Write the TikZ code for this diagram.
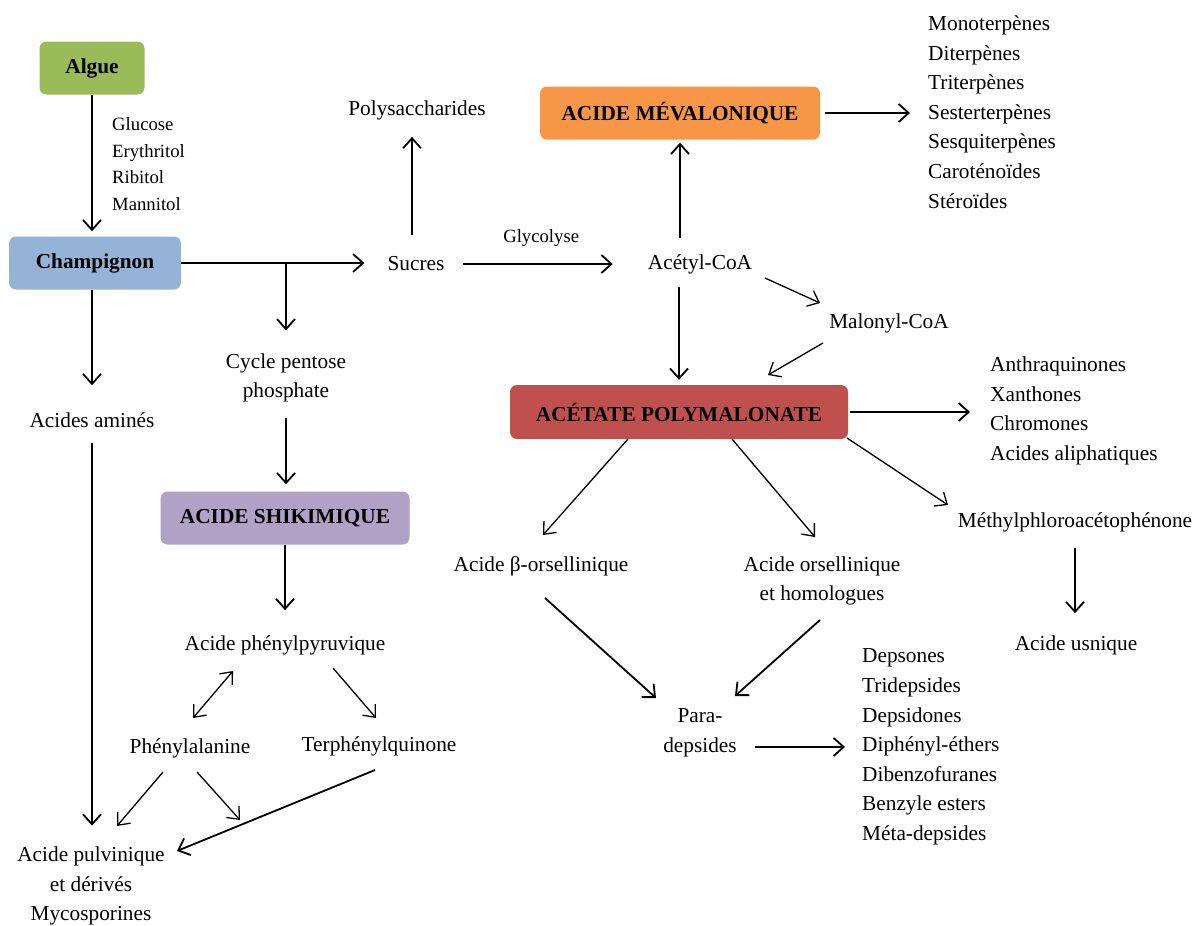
\documentclass[tikz,border=0pt]{standalone}
\usepackage{fontspec}
\setmainfont{Liberation Serif}
\usepackage{tikz}
\usetikzlibrary{arrows.meta}
\usetikzlibrary{calc}

\definecolor{algueGreen}{HTML}{9BBB59}
\definecolor{champBlue}{HTML}{95B3D7}
\definecolor{mevaOrange}{HTML}{F79646}
\definecolor{acetRed}{HTML}{C0504D}
\definecolor{shikiPurple}{HTML}{B2A1C7}

\begin{document}
\begin{tikzpicture}[x=1pt,y=-1pt]
				\tikzset{box/.style = {rounded corners=7pt, minimum height=53pt,
						inner sep = 0pt, font=\bfseries\fontsize{21.3}{26}\selectfont}}
				\tikzset{txt/.style = {inner sep = 0pt, align=center,
						font=\fontsize{21.3}{29.5}\selectfont}}
				\tikzset{lst/.style = {inner sep = 0pt, align=left, anchor=west,
						font=\fontsize{21.3}{29.6}\selectfont}}
				\tikzset{small/.style = {inner sep = 0pt, align=left,
						font=\fontsize{18.7}{26.7}\selectfont}}
				\tikzset{edge/.style = {-{Straight Barb[length=10pt,width=18pt]}, line width=1.8pt}}
				\tikzset{edgethin/.style = {-{Straight Barb[length=10pt,width=17pt]}, line width=1.3pt}}
				\tikzset{edgebi/.style = {{Straight Barb[length=10pt,width=17pt]}-{Straight Barb[length=10pt,width=17pt]}, line width=1.3pt}}

				\useasboundingbox (0,0) rectangle (1195,926);

				% vertices
				\node[box, fill=algueGreen, minimum width=105pt] (algue) at (92,68) {Algue};
				\node[box, fill=champBlue, minimum width=172pt] (champ) at (95,263) {Champignon};
				\node[box, fill=mevaOrange, minimum width=280pt] (mevalo) at (680,113) {ACIDE MÉVALONIQUE};
				\node[box, fill=acetRed, minimum width=338pt, minimum height=54pt] (acetate) at (679,412) {ACÉTATE POLYMALONATE};
				\node[box, fill=shikiPurple, minimum width=249pt] (shiki) at (285,518) {ACIDE SHIKIMIQUE};

				\node[small, anchor=west] (sugars) at (112,164) {Glucose\\Erythritol\\Ribitol\\Mannitol};
				\node[txt] (sucres) at (416,264) {Sucres};
				\node[txt] (poly) at (417,110) {Polysaccharides};
				\node[txt] (acetyl) at (700,264) {Acétyl-CoA};
				\node[txt] (malonyl) at (889,323) {Malonyl-CoA};
				\node[lst] (terp) at (928,112) {Monoterpènes\\Diterpènes\\Triterpènes\\Sesterterpènes\\Sesquiterpènes\\Caroténoïdes\\Stéroïdes};
				\node[lst] (anthra) at (990,411) {Anthraquinones\\Xanthones\\Chromones\\Acides aliphatiques};
				\node[txt] (methyl) at (1075,522) {Méthylphloroacétophénone};
				\node[txt] (usnique) at (1076,645) {Acide usnique};
				\node[txt] (borsel) at (541,566) {Acide β-orsellinique};
				\node[txt] (orsel) at (822,581) {Acide orsellinique\\et homologues};
				\node[txt] (para) at (700,733) {Para-\\depsides};
				\node[lst] (deps) at (862,747) {Depsones\\Tridepsides\\Depsidones\\Diphényl-éthers\\Dibenzofuranes\\Benzyle esters\\Méta-depsides};
				\node[txt] (amines) at (92,420) {Acides aminés};
				\node[txt] (pulvin) at (91,886) {Acide pulvinique\\et dérivés\\Mycosporines};
				\node[txt] (cycle) at (286,378) {Cycle pentose\\phosphate};
				\node[txt] (phenylpyr) at (285,645) {Acide phénylpyruvique};
				\node[txt] (phenylal) at (190,748) {Phénylalanine};
				\node[txt] (terphenyl) at (379,746) {Terphénylquinone};

				\coordinate (split) at (champ.east -| cycle);
				\coordinate (phenylend) at (240,820);

				%edges
				\draw[edge, shorten >=5pt] (algue.south) -- (algue.south |- champ.north);
				\draw[edge, shorten >=23pt] (champ.east) -- (champ.east -| sucres.west);
				\draw[edge, shorten >=23pt] (split) -- (cycle.north);
				\draw[edge, shorten <=22pt, shorten >=17pt] ([xshift=-4pt]sucres.north) -- ([xshift=-4pt]sucres.north |- poly.south);
				\draw[edge, shorten <=18pt, shorten >=35pt] (sucres.east) -- (sucres.east -| acetyl.west)
					node[small, midway, above=17pt, xshift=-5pt] (glyco) {Glycolyse};
				\draw[edge, shorten <=16pt, shorten >=3pt] (mevalo.south |- acetyl.north) -- (mevalo.south);
				\draw[edge, shorten <=5pt, shorten >=18pt] (mevalo.east) -- (mevalo.east -| terp.west);
				\draw[edgethin] ($(acetyl)+(65,14)$) -- ($(malonyl)+(-69,-20)$);
				\draw[edgethin] ($(malonyl)+(-66,20)$) -- ($(acetate)+(89,-37)$);
				\draw[edge, shorten <=13pt, shorten >=5pt] (acetate.north |- acetyl.south) -- (acetate.north);
				\draw[edge, shorten <=2pt, shorten >=20pt] (acetate.east) -- (acetate.east -| anthra.west);
				\draw[edgethin] ($(acetate)+(168,26)$) -- ($(methyl)+(-127,-17)$);
				\draw[edge, shorten <=16pt, shorten >=22pt] (methyl.south) -- (methyl.south |- usnique.north);
				\draw[edgethin] ($(acetate)+(-51,27)$) -- ($(borsel)+(2,-31)$);
				\draw[edgethin] ($(acetate)+(53,27)$) -- ($(orsel)+(-7,-44)$);
				\draw[edge] ($(borsel)+(4,32)$) -- ($(para)+(-44,-35)$);
				\draw[edge] ($(orsel)+(-2,39)$) -- ($(para)+(35,-37)$);
				\draw[edge] ($(para.east)+(18,14)$) -- ($(deps.west)+(-17,0)$);
				\draw[edge, shorten >=27pt] (amines.north |- champ.south) -- (amines.north);
				\draw[edge, shorten <=15pt, shorten >=21pt] (amines.south) -- (amines.south |- pulvin.north);
				\draw[edge, shorten <=15pt, shorten >=7pt] (cycle.south) -- (cycle.south |- shiki.north);
				\draw[edge, shorten >=25pt] (shiki.south) -- (shiki.south |- phenylpyr.north);
				\draw[edgebi] ($(phenylpyr)+(-52,26)$) -- ($(phenylal)+(3,-30)$);
				\draw[edgethin] ($(phenylpyr)+(48,23)$) -- ($(terphenyl)+(-3,-28)$);
				\draw[edgethin] ($(phenylal)+(-27,24)$) -- ($(pulvin)+(26,-60)$);
				\draw[edgethin] ($(phenylal)+(7,24)$) -- (phenylend);
				\draw[edge] ($(terphenyl)+(-4,24)$) -- ($(pulvin)+(86,-35)$);

\end{tikzpicture}
\end{document}
